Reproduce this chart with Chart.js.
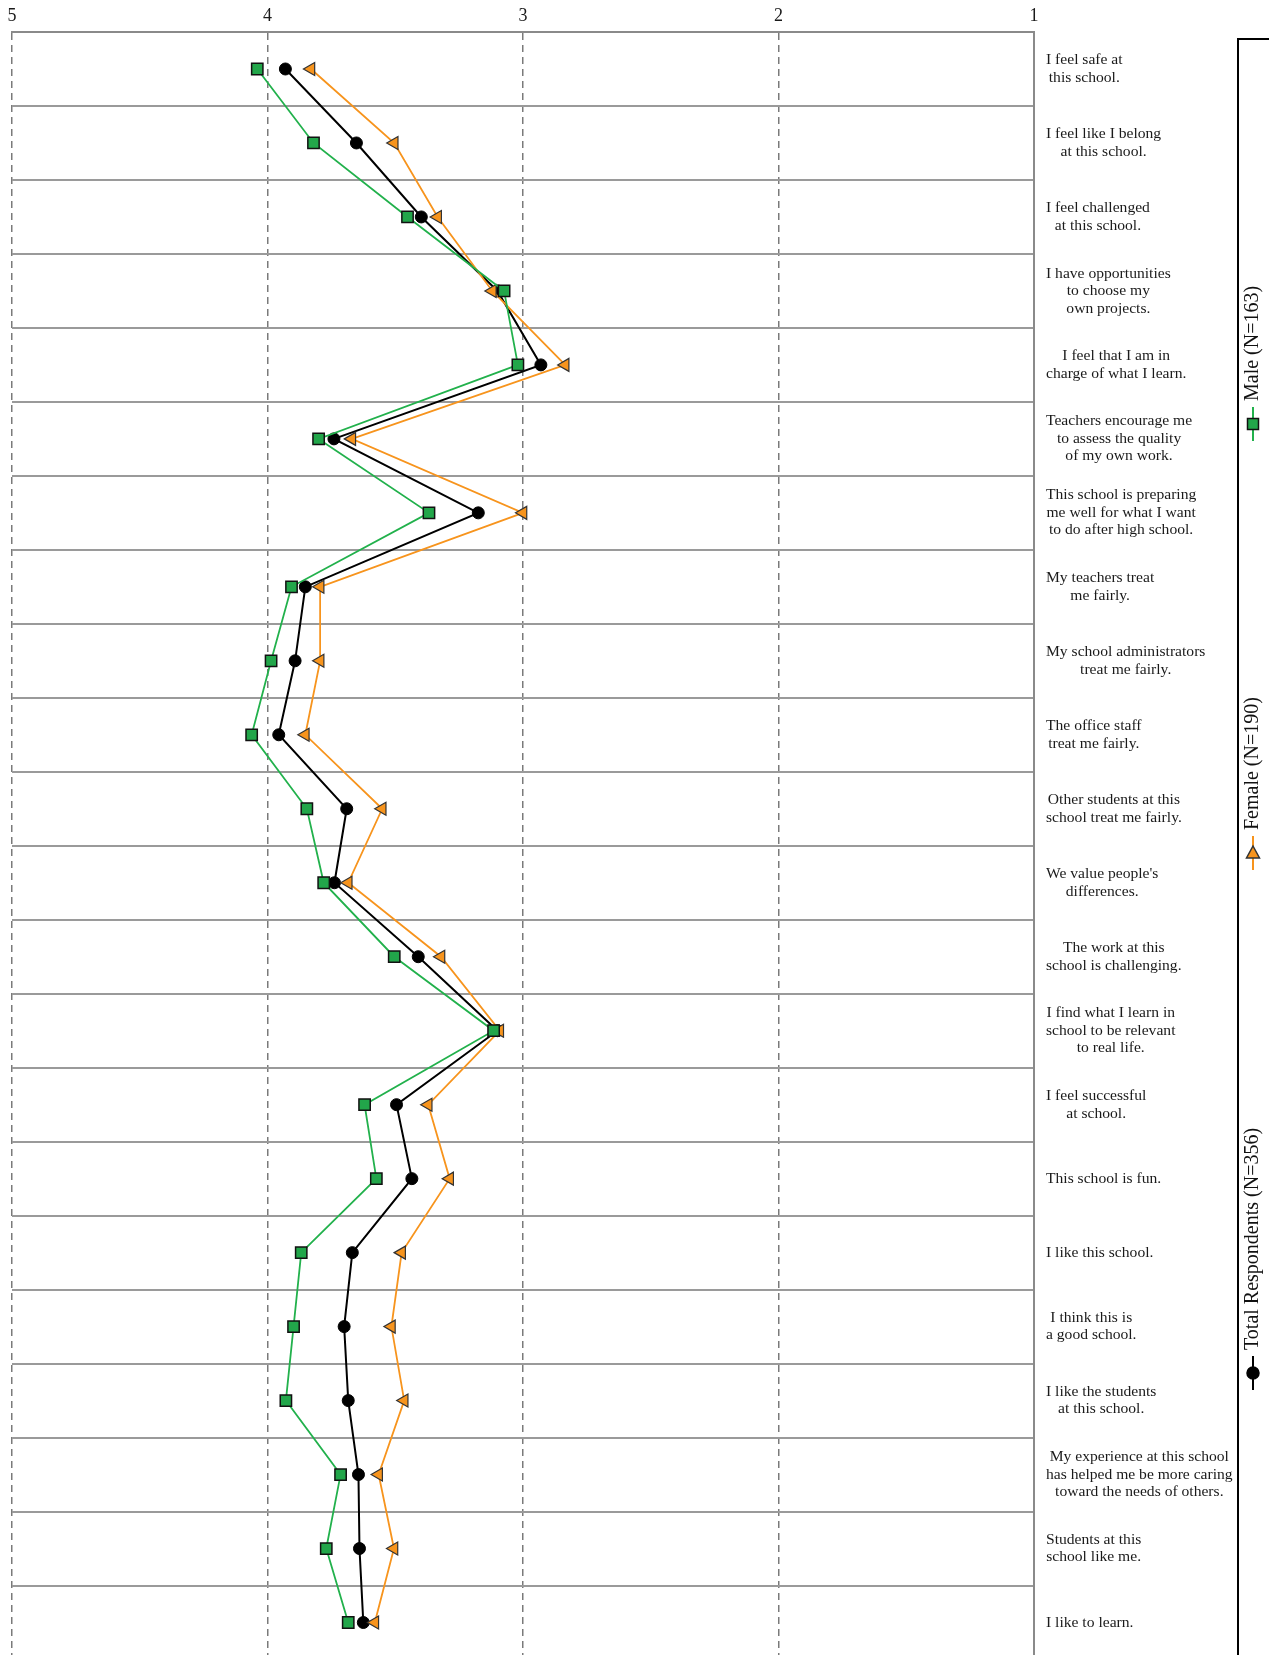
<!DOCTYPE html>
<html><head><meta charset="utf-8">
<script src="https://cdn.jsdelivr.net/npm/chart.js@4.4.0/dist/chart.umd.min.js"></script>
<style>
html,body{margin:0;padding:0;background:#fff;overflow:hidden;}
#wrap{width:1269px;height:1655px;overflow:hidden;position:relative;background:#fff;}
#box{width:1269px;height:1669px;position:absolute;left:0;top:0;}
</style></head><body>
<div id="wrap"><div id="box"><canvas id="c"></canvas></div></div>
<script>
const categories = [
  ["I feel safe at", "this school."],
  ["I feel like I belong", "at this school."],
  ["I feel challenged", "at this school."],
  ["I have opportunities", "to choose my", "own projects."],
  ["I feel that I am in", "charge of what I learn."],
  ["Teachers encourage me", "to assess the quality", "of my own work."],
  ["This school is preparing", "me well for what I want", "to do after high school."],
  ["My teachers treat", "me fairly."],
  ["My school administrators", "treat me fairly."],
  ["The office staff", "treat me fairly."],
  ["Other students at this", "school treat me fairly."],
  ["We value people's", "differences."],
  ["The work at this", "school is challenging."],
  ["I find what I learn in", "school to be relevant", "to real life."],
  ["I feel successful", "at school."],
  ["This school is fun."],
  ["I like this school."],
  ["I think this is", "a good school."],
  ["I like the students", "at this school."],
  ["My experience at this school", "has helped me be more caring", "toward the needs of others."],
  ["Students at this", "school like me."],
  ["I like to learn."]
];
const xTicks = [5, 4, 3, 2, 1];
const maleVals   = [4.04, 3.82, 3.452, 3.074, 3.02, 3.80, 3.368, 3.906, 3.986, 4.062, 3.846, 3.78, 3.504, 3.115, 3.62, 3.574, 3.868, 3.898, 3.928, 3.714, 3.77, 3.684];
const totalVals  = [3.93, 3.652, 3.398, 3.10, 2.93, 3.74, 3.175, 3.852, 3.892, 3.956, 3.69, 3.738, 3.41, 3.10, 3.495, 3.435, 3.668, 3.70, 3.684, 3.644, 3.64, 3.625];
const femaleVals = [3.83, 3.504, 3.334, 3.12, 2.835, 3.67, 3.00, 3.794, 3.794, 3.852, 3.551, 3.684, 3.321, 3.091, 3.371, 3.287, 3.475, 3.515, 3.465, 3.565, 3.505, 3.58];
const seriesNames = ["Male (N=163)", "Female (N=190)", "Total Respondents (N=356)"];

const GREEN_LINE = '#22B14C', GREEN_FILL = '#22A64A';
const ORANGE = '#F7941D';

const labelPlugin = {
  id: 'rightLabels',
  afterDraw(chart) {
    const ctx = chart.ctx;
    const ys = chart.scales.y;
    ctx.save();
    ctx.font = '15.6px "Liberation Serif", "Times New Roman", serif';
    ctx.fillStyle = '#1a1a1a';
    ctx.textAlign = 'center';
    ctx.textBaseline = 'middle';
    const lh = 17.5;
    const x0 = chart.chartArea.right + 12;
    chart.data.labels.forEach((lines, i) => {
      const y = ys.getPixelForValue(i);
      const w = Math.max(...lines.map(l => ctx.measureText(l).width));
      const cx = x0 + w / 2;
      lines.forEach((l, j) => {
        ctx.fillText(l, cx, y + (j - (lines.length - 1) / 2) * lh);
      });
    });
    ctx.restore();
  }
};

const legendPlugin = {
  id: 'rotLegend',
  afterDraw(chart) {
    const ctx = chart.ctx;
    ctx.save();
    ctx.strokeStyle = '#000';
    ctx.lineWidth = 2;
    ctx.strokeRect(1238, 39, 200, 1800);
    const cx = 1253;
    const markerY = [424, 853, 1373];
    chart.data.datasets.forEach((ds, i) => {
      const my = markerY[i];
      ctx.strokeStyle = ds.borderColor;
      ctx.lineWidth = 2;
      ctx.beginPath();
      ctx.moveTo(cx, my - 17);
      ctx.lineTo(cx, my + 17);
      ctx.stroke();
      ctx.fillStyle = ds.pointBackgroundColor;
      ctx.strokeStyle = ds.pointBorderColor;
      ctx.lineWidth = 1.5;
      ctx.beginPath();
      if (ds.pointStyle === 'rect') {
        ctx.rect(cx - 5.5, my - 5.5, 11, 11);
      } else if (ds.pointStyle === 'triangle') {
        ctx.moveTo(cx, my - 7);
        ctx.lineTo(cx + 6.5, my + 5);
        ctx.lineTo(cx - 6.5, my + 5);
        ctx.closePath();
      } else {
        ctx.arc(cx, my, 6, 0, Math.PI * 2);
      }
      ctx.fill();
      ctx.stroke();
      ctx.save();
      ctx.translate(cx, my - 23);
      ctx.rotate(-Math.PI / 2);
      ctx.font = '20px "Liberation Serif", "Times New Roman", serif';
      ctx.fillStyle = '#111';
      ctx.textAlign = 'left';
      ctx.textBaseline = 'middle';
      ctx.fillText(ds.label, 0, 0);
      ctx.restore();
    });
    ctx.restore();
  }
};

new Chart(document.getElementById('c'), {
  type: 'line',
  data: {
    labels: categories,
    datasets: [
      {
        label: seriesNames[0], data: maleVals,
        borderColor: GREEN_LINE, borderWidth: 1.8,
        pointStyle: 'rect', pointRadius: 8, pointBackgroundColor: GREEN_FILL,
        pointBorderColor: '#111', pointBorderWidth: 1.5
      },
      {
        label: seriesNames[1], data: femaleVals,
        borderColor: ORANGE, borderWidth: 1.8,
        pointStyle: 'triangle', pointRotation: -90, pointRadius: 7.5, pointBackgroundColor: ORANGE,
        pointBorderColor: '#333', pointBorderWidth: 1.2
      },
      {
        label: seriesNames[2], data: totalVals,
        borderColor: '#000', borderWidth: 2,
        pointStyle: 'circle', pointRadius: 6, pointBackgroundColor: '#000',
        pointBorderColor: '#000', pointBorderWidth: 1
      }
    ]
  },
  options: {
    indexAxis: 'y',
    responsive: true,
    maintainAspectRatio: false,
    animation: false,
    devicePixelRatio: 1,
    layout: { padding: { left: 12, right: 235, top: 0, bottom: 1 } },
    elements: { line: { tension: 0, fill: false } },
    plugins: { legend: { display: false }, tooltip: { enabled: false } },
    scales: {
      x: {
        type: 'linear', position: 'top', min: 1, max: 5, reverse: true,
        ticks: {
          stepSize: 1, padding: 7, color: '#1a1a1a',
          font: { family: '"Liberation Serif", "Times New Roman", serif', size: 18, lineHeight: 1 },
          callback: v => xTicks.includes(v) ? String(v) : ''
        },
        grid: { color: '#7a7a7a', lineWidth: 1.5, drawTicks: false },
        border: { display: true, color: '#8a8a8a', width: 2, dash: [7, 5] }
      },
      y: {
        type: 'category', position: 'right', offset: true,
        ticks: { display: false },
        grid: { offset: true, color: '#9a9a9a', lineWidth: 2, drawTicks: false },
        border: { display: true, color: '#8a8a8a', width: 2 }
      }
    }
  },
  plugins: [labelPlugin, legendPlugin]
});
</script>
</body></html>
